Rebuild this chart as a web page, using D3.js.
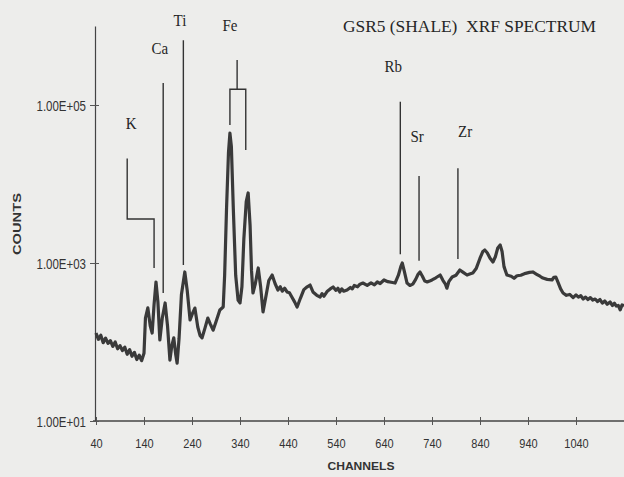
<!DOCTYPE html>
<html>
<head>
<meta charset="utf-8">
<script src="https://cdn.jsdelivr.net/npm/d3@7"></script>
<style>
  html, body { margin: 0; padding: 0; background: #ededeb; }
  svg { display: block; }
</style>
</head>
<body>
<script>
// spectrum (channel -> counts)
const channels = [40, 45, 50, 55, 60, 65, 70, 75, 80, 85, 90, 95, 100, 105, 110, 115, 120, 125, 130, 135,
  140, 143, 148, 153, 157, 161, 165, 169, 173,
  178, 184, 189, 194, 198, 202, 206, 209, 213, 218, 225, 230, 236, 241, 246, 252, 257, 261, 267, 273,
  278, 284, 290, 298, 305, 308, 312, 316, 319, 322, 326, 331, 336, 340, 344, 348, 353, 357, 361, 364,
  367, 372, 378, 383, 388, 393, 400, 407, 413, 419, 424, 428, 433, 438, 443, 448, 454, 459, 466, 473, 480, 486,
  492, 500, 507, 511, 515, 522, 528, 534, 540, 544, 548, 552, 556, 563, 570, 574, 578, 585, 590, 596, 605, 613, 620, 626, 632, 640,
  648, 655, 663, 670, 675, 678, 682, 688, 694, 700, 706, 711, 715, 720, 725, 730, 735, 740, 748, 753,
  757, 763, 768, 771, 775, 782, 790, 798, 805, 813, 820, 825, 832, 840, 846, 850, 855, 861, 867, 872,
  877, 882, 886, 890, 896, 905, 911, 917, 925, 935, 943, 950, 958, 965, 971, 980, 990, 994, 998, 1003, 1008,
  1013, 1020, 1027, 1034, 1040, 1045, 1050, 1055, 1060, 1065, 1070, 1075, 1080, 1085, 1090, 1095, 1100, 1105, 1111, 1116, 1120, 1124, 1128, 1132, 1136, 1140];
const counts = [130, 108, 122, 98, 112, 96, 104, 88, 100, 82, 90, 78, 86, 70, 80, 66, 74, 60, 68, 58,
  72, 200, 270, 160, 130, 300, 575, 320, 106,
  200, 312, 160, 59, 90, 113, 70, 54, 110, 400, 770, 450, 190, 230, 269, 155, 120, 113, 150, 201,
  170, 141, 180, 254, 277, 700, 5000, 25000, 44000, 30000, 5000, 700, 340, 312, 500, 2000, 6000, 7700, 3000, 800,
  417, 550, 865, 500, 240, 350, 600, 704, 550, 455, 500, 440, 480, 430, 420, 371, 320, 277, 360, 460, 500, 526,
  430, 390, 371, 410, 380, 440, 470, 497, 450, 480, 430, 470, 440, 455, 490, 470, 520, 500, 540, 558, 520, 560, 530, 575, 550, 610,
  580, 570, 558, 700, 900, 1000, 800, 558, 520, 540, 620, 720, 770, 680, 590, 575, 590, 610, 650, 680,
  704, 600, 540, 480, 580, 665, 700, 815, 760, 704, 730, 747, 850, 1150, 1400, 1460, 1350, 1150, 1030, 1200,
  1550, 1690, 1400, 900, 704, 680, 640, 690, 700, 740, 760, 770, 720, 680, 645, 620, 610, 660, 665, 560, 470,
  417, 390, 400, 365, 395, 370, 385, 350, 370, 345, 365, 340, 350, 325, 345, 310, 330, 300, 321, 290, 310, 285, 290, 255, 295, 286];

const xTickValues = [40, 140, 240, 340, 440, 540, 640, 740, 840, 940, 1040];
const yTickValues = [10, 1000, 100000];
const yTickLabels = ["1.00E+01", "1.00E+03", "1.00E+05"];

// element marker lines: polyline points as [channel, counts]
const peakNames = ["K", "Ca", "Ti", "Fe", "Rb", "Sr", "Zr"];
const peakLines = [
  [[[105, 21000], [105, 3600], [161, 3600], [161, 865]]],
  [[[180, 190000], [180, 417]]],
  [[[222, 660000], [222, 944]]],
  [[[334, 370000], [334, 158000]], [[319, 56000], [319, 158000], [352, 158000], [352, 27000]]],
  [[[674, 110000], [674, 1290]]],
  [[[713, 12600], [713, 1070]]],
  [[[794, 15800], [794, 1120]]]
];
const peakLabelChannels = [113, 173, 215, 319, 659, 709, 809];

const width = 624, height = 477;

const svg = d3.select("body").append("svg")
  .attr("width", width)
  .attr("height", height)
  .style("background", "#ededeb");

const x = d3.scaleLinear().domain([40, 1140]).range([96, 624]);
const y = d3.scaleLog().domain([10, 1000000]).range([421, 26]);

// axes
const xAxis = svg.append("g")
  .attr("transform", "translate(0,421)")
  .call(d3.axisBottom(x).tickValues(xTickValues).tickSize(4).tickSizeOuter(0)
    .tickFormat(d => String(d)));
xAxis.select(".domain").attr("stroke", "#444").attr("stroke-width", 1.3)
  .attr("d", "M93,0H624");
xAxis.selectAll(".tick line").attr("y1", -4).attr("y2", 4).attr("stroke", "#555");
xAxis.selectAll(".tick text")
  .attr("y", 0).attr("dy", null)
  .attr("transform", "translate(0,27) scale(1,1.2)")
  .attr("fill", "#333")
  .style("font-family", "'Liberation Sans', Arial, sans-serif")
  .style("font-size", "11px");

const yAxis = svg.append("g")
  .attr("transform", "translate(95,0)")
  .call(d3.axisLeft(y).tickValues(yTickValues).tickSize(5).tickSizeOuter(0)
    .tickFormat((d, i) => yTickLabels[i]));
yAxis.select(".domain").attr("stroke", "#444").attr("stroke-width", 1.2);
yAxis.selectAll(".tick line").attr("x1", -5).attr("x2", 4).attr("stroke", "#555");
yAxis.selectAll(".tick text")
  .attr("x", 0).attr("dy", null)
  .attr("transform", "translate(-9,5) scale(1,1.2)")
  .attr("fill", "#333")
  .style("font-family", "'Liberation Sans', Arial, sans-serif")
  .style("font-size", "11.5px");

// axis titles
svg.append("text")
  .attr("x", 361).attr("y", 470)
  .attr("text-anchor", "middle")
  .attr("textLength", 67)
  .attr("lengthAdjust", "spacingAndGlyphs")
  .style("font-family", "'Liberation Sans', Arial, sans-serif")
  .style("font-weight", "bold")
  .style("font-size", "11px")
  .attr("fill", "#333")
  .text("CHANNELS");

svg.append("text")
  .attr("transform", "translate(21,224) rotate(-90)")
  .attr("text-anchor", "middle")
  .attr("textLength", 62)
  .attr("lengthAdjust", "spacingAndGlyphs")
  .style("font-family", "'Liberation Sans', Arial, sans-serif")
  .style("font-weight", "bold")
  .style("font-size", "11px")
  .attr("fill", "#333")
  .text("COUNTS");

// spectrum
const line = d3.line()
  .x((d, i) => x(channels[i]))
  .y(d => y(d));

svg.append("path")
  .datum(counts)
  .attr("d", line)
  .attr("fill", "none")
  .attr("stroke", "#3a3a3a")
  .attr("stroke-width", 3.2)
  .attr("stroke-linejoin", "round");

// element marker lines
const markerLine = d3.line().x(d => x(d[0])).y(d => y(d[1]));
peakLines.forEach(segs => {
  segs.forEach(seg => {
    svg.append("path")
      .attr("d", markerLine(seg))
      .attr("fill", "none")
      .attr("stroke", "#333")
      .attr("stroke-width", 1.4);
  });
});

// element labels
const labelBaselines = [129, 54, 26, 31, 72, 142, 137];
svg.selectAll(".peak-label")
  .data(peakNames)
  .enter()
  .append("text")
  .attr("class", "peak-label")
  .attr("text-anchor", "middle")
  .attr("transform", (d, i) => `translate(${x(peakLabelChannels[i])},${labelBaselines[i]}) scale(1,1.15)`)
  .style("font-family", "'Liberation Serif', 'Times New Roman', serif")
  .style("font-size", "15px")
  .attr("fill", "#262626")
  .text(d => d);

// title
svg.append("text")
  .attr("transform", "translate(343,32) scale(1,1.15)")
  .attr("textLength", 253)
  .attr("lengthAdjust", "spacingAndGlyphs")
  .style("font-family", "'Liberation Serif', 'Times New Roman', serif")
  .style("font-size", "15px")
  .attr("fill", "#262626")
  .attr("xml:space", "preserve")
  .text("GSR5 (SHALE)  XRF SPECTRUM");
</script>
</body>
</html>
